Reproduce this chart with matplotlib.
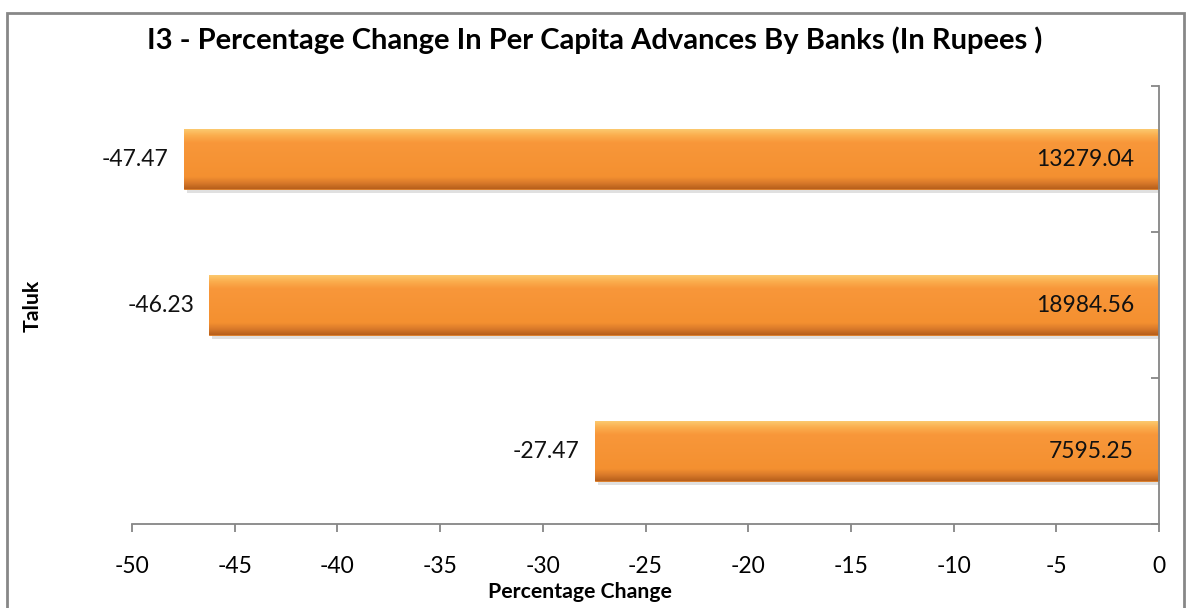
import numpy as np
import matplotlib
matplotlib.use("Agg")
import matplotlib.pyplot as plt
import matplotlib.patheffects as pe
from matplotlib.colors import LinearSegmentedColormap
from matplotlib.patches import Rectangle

plt.rcParams['font.family'] = ['Lato', 'DejaVu Sans']

# bars from bottom to top
pct_change = [-27.47, -46.23, -47.47]
per_capita = ["7595.25", "18984.56", "13279.04"]
xticks = [-50, -45, -40, -35, -30, -25, -20, -15, -10, -5, 0]

title = "I3 - Percentage Change In Per Capita Advances By Banks (In Rupees )"

fig = plt.figure(figsize=(11.87, 6.08), dpi=100)
ax = fig.add_axes([132 / 1187, 1 - 524 / 608, 1027 / 1187, 438 / 608])

ypos = np.arange(len(pct_change))
bars = ax.barh(ypos, pct_change, height=0.41, color='#F7952F', edgecolor='#D9761E', lw=0.6,
               zorder=2,
               path_effects=[pe.SimplePatchShadow(offset=(2, -3), shadow_rgbFace='#999999', alpha=0.3),
                             pe.Normal()])

# vertical gradient to fake the excel bevel look
grad = LinearSegmentedColormap.from_list('bev', [
    (0.0, '#B8601C'), (0.10, '#DA7A2A'), (0.20, '#F49030'),
    (0.78, '#F8973A'), (0.90, '#FBAE4E'), (1.0, '#FCC86E')])
g = np.linspace(0, 1, 100).reshape(-1, 1)
for b in bars:
    x0, y0 = b.get_x(), b.get_y()
    w, h = b.get_width(), b.get_height()
    im = ax.imshow(g, cmap=grad, aspect='auto', origin='lower',
                   extent=[x0, x0 + w, y0, y0 + h], zorder=2.5)
    im.set_clip_path(b)

for y, v, lab in zip(ypos, pct_change, per_capita):
    ax.annotate(f"{v:.2f}", (v, y), xytext=(-11, 0), textcoords='offset points',
                ha='right', va='center', fontsize=16.5, color='#111111')
    ax.annotate(lab, (0, y), xytext=(-18, 0), textcoords='offset points',
                ha='right', va='center', fontsize=16.5, color='#111111', zorder=5)

ax.set_xlim(-50, 0)
ax.set_ylim(-0.5, 2.5)
ax.set_xticks(xticks)
ax.set_xticklabels([str(t) for t in xticks])
ax.set_yticks([-0.5, 0.5, 1.5, 2.5])
ax.yaxis.tick_right()
ax.tick_params(axis='y', labelright=False, direction='in', length=6, color='#868686', width=1.3)
ax.tick_params(axis='x', direction='out', length=6, color='#868686', width=1.3,
               labelsize=16.5, pad=17)
for s in ['left', 'top']:
    ax.spines[s].set_visible(False)
for s in ['right', 'bottom']:
    ax.spines[s].set_color('#868686')
    ax.spines[s].set_linewidth(1.3)

fig.text(595 / 1187, 1 - 49 / 608, title, ha='center', va='baseline',
         fontsize=21, fontweight='bold')
fig.text(580 / 1187, 1 - 598 / 608, "Percentage Change", ha='center', va='baseline',
         fontsize=15.3, fontweight='bold')
fig.text(33 / 1187, 1 - 306 / 608, "Taluk", ha='center', va='center', rotation=90,
         fontsize=15.3, fontweight='bold')

fig.patches.append(Rectangle((7 / 1187, -0.05), 1177 / 1187, (595 / 608) + 0.05,
                             transform=fig.transFigure, fill=False, ec='#878787', lw=2))

fig.savefig("out.png", dpi=100)
